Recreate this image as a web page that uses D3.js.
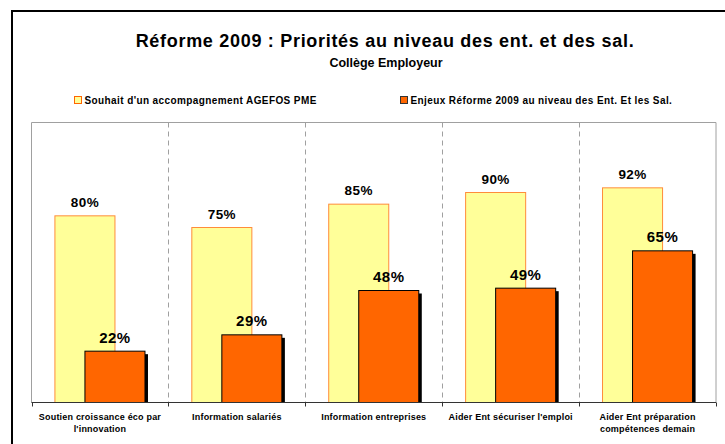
<!DOCTYPE html>
<html>
<head>
<meta charset="utf-8">
<script src="https://cdn.jsdelivr.net/npm/d3@7"></script>
<style>
  body { margin: 0; background: #fff; }
  svg text { font-family: Arial, "Liberation Sans", sans-serif; font-weight: bold; fill: #000; }
</style>
</head>
<body>
<div id="chart"></div>
<script>
// Données du graphique
const categories = [
    ['Soutien croissance éco par', 'l\'innovation'],
    ['Information salariés'],
    ['Information entreprises'],
    ['Aider Ent sécuriser l\'emploi'],
    ['Aider Ent préparation', 'compétences demain']
];
const souhait = [0.80, 0.75, 0.85, 0.90, 0.92];
const enjeux = [0.22, 0.29, 0.48, 0.49, 0.65];
const seriesNames = ['Souhait d\'un accompagnement AGEFOS PME', 'Enjeux Réforme 2009 au niveau des Ent. Et les Sal.'];

const width = 725, height = 444;
const plot = { left: 31.5, right: 716, top: 122.5, bottom: 402.5 };

const svg = d3.select('#chart').append('svg')
    .attr('width', width)
    .attr('height', height);

// Cadre extérieur
svg.append('rect')
    .attr('x', 12).attr('y', 11)
    .attr('width', 730).attr('height', 450)
    .attr('fill', 'none')
    .attr('stroke', '#000')
    .attr('stroke-width', 2);

// Titres
svg.append('text')
    .attr('x', 385).attr('y', 47)
    .attr('text-anchor', 'middle')
    .style('font-size', '18px')
    .style('letter-spacing', '0.7px')
    .text('Réforme 2009 : Priorités au niveau des ent. et des sal.');

svg.append('text')
    .attr('x', 386).attr('y', 66.5)
    .attr('text-anchor', 'middle')
    .style('font-size', '12.5px')
    .text('Collège Employeur');

// Échelles
const x = d3.scaleBand()
    .domain(d3.range(categories.length))
    .range([plot.left, plot.right]);

const y = d3.scaleLinear()
    .domain([0, 1.2])
    .range([plot.bottom, plot.top]);

const barW = x.bandwidth() / 2.28;
const pad = (x.bandwidth() - barW * 1.5) / 2;

// Cadre de la zone de tracé
svg.append('path')
    .attr('d', `M${plot.left},${plot.bottom}V${plot.top}H${plot.right}V${plot.bottom}`)
    .attr('fill', 'none')
    .attr('stroke', '#a0a0a0')
    .attr('stroke-width', 1);

// Lignes de séparation pointillées
svg.append('g')
    .selectAll('line')
    .data(d3.range(1, categories.length))
    .enter().append('line')
    .attr('x1', i => Math.round(x(i)) + 0.5)
    .attr('x2', i => Math.round(x(i)) + 0.5)
    .attr('y1', plot.top)
    .attr('y2', plot.bottom)
    .attr('stroke', '#a0a0a0')
    .attr('stroke-dasharray', '5,4');

// Barres jaunes
svg.append('g')
    .selectAll('rect')
    .data(souhait)
    .enter().append('rect')
    .attr('x', (d, i) => x(i) + pad)
    .attr('y', d => y(d))
    .attr('width', barW)
    .attr('height', d => y(0) - y(d))
    .attr('fill', '#ffff99')
    .attr('stroke', '#ff8c3a')
    .attr('stroke-width', 1);

// Ombres des barres orange
svg.append('g')
    .selectAll('rect')
    .data(enjeux)
    .enter().append('rect')
    .attr('x', (d, i) => x(i) + pad + barW / 2 + 3)
    .attr('y', d => y(d) + 3)
    .attr('width', barW)
    .attr('height', d => y(0) - y(d) - 3)
    .attr('fill', '#000');

// Barres orange
svg.append('g')
    .selectAll('rect')
    .data(enjeux)
    .enter().append('rect')
    .attr('x', (d, i) => x(i) + pad + barW / 2)
    .attr('y', d => y(d))
    .attr('width', barW)
    .attr('height', d => y(0) - y(d))
    .attr('fill', '#ff6600')
    .attr('stroke', '#000')
    .attr('stroke-width', 1);

// Étiquettes de valeurs
const pct = d3.format('.0%');
svg.append('g')
    .selectAll('text')
    .data(souhait)
    .enter().append('text')
    .attr('x', (d, i) => x(i) + pad + barW / 2)
    .attr('y', d => y(d) - 9)
    .attr('text-anchor', 'middle')
    .style('font-size', '13.5px')
    .style('letter-spacing', '0.4px')
    .text(d => pct(d));

svg.append('g')
    .selectAll('text')
    .data(enjeux)
    .enter().append('text')
    .attr('x', (d, i) => x(i) + pad + barW)
    .attr('y', d => y(d) - 8.5)
    .attr('text-anchor', 'middle')
    .style('font-size', '15px')
    .style('letter-spacing', '0.5px')
    .text(d => pct(d));

// Axe des catégories
svg.append('line')
    .attr('x1', plot.left).attr('x2', plot.right)
    .attr('y1', plot.bottom).attr('y2', plot.bottom)
    .attr('stroke', '#333');

svg.append('g')
    .selectAll('line')
    .data(d3.range(categories.length + 1))
    .enter().append('line')
    .attr('x1', i => Math.round(i < categories.length ? x(i) : plot.right) + 0.5)
    .attr('x2', i => Math.round(i < categories.length ? x(i) : plot.right) + 0.5)
    .attr('y1', plot.bottom)
    .attr('y2', plot.bottom + 4)
    .attr('stroke', '#333');

const catLabel = svg.append('g')
    .selectAll('text')
    .data(categories)
    .enter().append('text')
    .attr('x', (d, i) => x(i) + x.bandwidth() / 2)
    .attr('y', 419.5)
    .attr('text-anchor', 'middle')
    .style('font-size', '9px')
    .style('letter-spacing', '0.2px');

catLabel.selectAll('tspan')
    .data(d => d)
    .enter().append('tspan')
    .attr('x', function() { return d3.select(this.parentNode).attr('x'); })
    .attr('dy', (d, i) => i === 0 ? 0 : 12)
    .text(d => d);

// Légende
const legendX = [74.5, 400.5];
const legendColors = [['#ffff99', '#ff8c3a'], ['#ff6600', '#000']];
const legend = svg.append('g')
    .selectAll('g')
    .data(seriesNames)
    .enter().append('g')
    .attr('transform', (d, i) => `translate(${legendX[i]},96.5)`);

legend.append('rect')
    .attr('width', 7).attr('height', 7)
    .attr('fill', (d, i) => legendColors[i][0])
    .attr('stroke', (d, i) => i === 0 ? '#ff6600' : '#333');

legend.append('text')
    .attr('x', 10)
    .attr('y', 7.5)
    .style('font-size', '10px')
    .style('letter-spacing', '0.4px')
    .text(d => d);
</script>
</body>
</html>
